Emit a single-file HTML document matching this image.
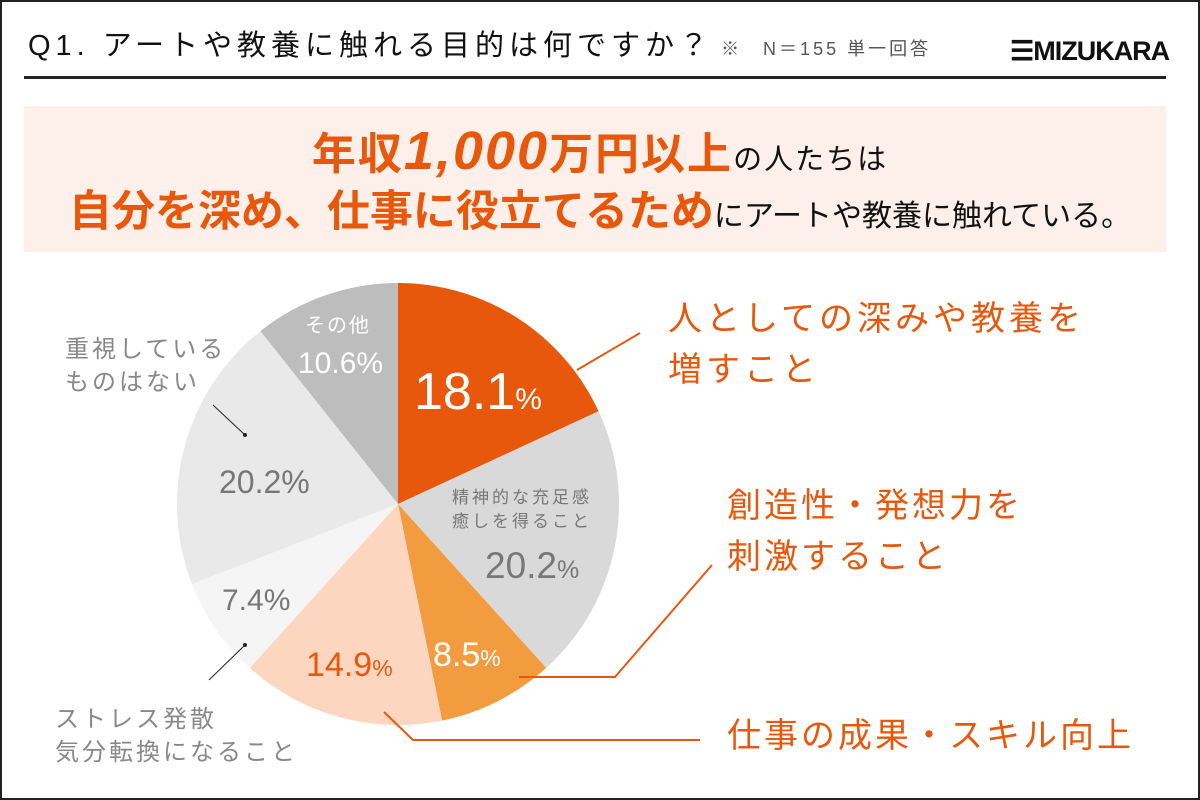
<!DOCTYPE html>
<html><head><meta charset="utf-8"><style>
body{margin:0;width:1200px;height:800px;overflow:hidden;background:#fff;font-family:"Liberation Sans","Noto Sans CJK JP",sans-serif;}
.f{position:absolute;box-sizing:border-box;}
.t{position:absolute;white-space:nowrap;line-height:1;}
</style></head><body>
<div class="f" style="left:0;top:0;width:1200px;height:800px;border:2px solid #222;"></div>
<div class="t" style="left:28px;top:32px;font-size:29px;color:#111;letter-spacing:5px;">Q1. アートや教養に触れる目的は何ですか？<span style="font-size:18px;color:#555;margin-left:8px;letter-spacing:3px">※　N＝155 単一回答</span></div>
<div class="t" style="left:1010px;top:38px;font-size:27px;font-weight:bold;color:#111;letter-spacing:-1px;">☰MIZUKARA</div>
<div class="f" style="left:24px;top:76px;width:1142px;height:3px;background:#222;"></div>
<div class="f" style="left:24px;top:106px;width:1142px;height:146px;background:#fdf0ea;"></div>
<div class="t" style="left:0;width:1200px;text-align:center;top:124px;font-size:44px;font-weight:bold;color:#e8580c;letter-spacing:2px;">年収<span style="font-size:54px;font-style:italic">1,000</span>万円以上<span style="font-size:29px;color:#111;font-weight:normal">の人たちは</span></div>
<div class="t" style="left:0;width:1200px;text-align:center;top:191px;font-size:43px;font-weight:bold;color:#e8580c;letter-spacing:0px;">自分を深め、仕事に役立てるため<span style="font-size:30px;color:#111;font-weight:normal">にアートや教養に触れている。</span></div>
<svg class="f" style="left:0;top:0" width="1200" height="800">
<path d="M398 504 L398 283 A221 221 0 0 1 598.6 411.2Z" fill="#e8580c"/>
<path d="M398 504 L598.6 411.2 A221 221 0 0 1 546.2 667.9Z" fill="#d9d9d9"/>
<path d="M398 504 L546.2 667.9 A221 221 0 0 1 442.1 720.6Z" fill="#f29b3f"/>
<path d="M398 504 L442.1 720.6 A221 221 0 0 1 249.8 667.9Z" fill="#fdd6c0"/>
<path d="M398 504 L249.8 667.9 A221 221 0 0 1 192 584.1Z" fill="#f5f5f5"/>
<path d="M398 504 L192 584.1 A221 221 0 0 1 260.4 331.1Z" fill="#e9e9e9"/>
<path d="M398 504 L260.4 331.1 A221 221 0 0 1 398 283Z" fill="#bdbdbd"/>
<g stroke="#e8580c" stroke-width="2" fill="none">
<polyline points="577,370 640,333"/>
<polyline points="519,677 615,677 712,565"/>
<polyline points="384,712 413,740 700,740"/>
</g>
<g stroke="#222" stroke-width="1"><line x1="213" y1="405" x2="245" y2="435"/><line x1="209" y1="680" x2="245" y2="645"/></g>
<circle cx="245" cy="435" r="2" fill="#222"/><circle cx="245" cy="645" r="2" fill="#222"/>
</svg>
<div class="t" style="left:305px;top:316px;font-size:20px;color:#fff;letter-spacing:2px;">その他</div>
<div class="t" style="left:298px;top:349px;font-size:30px;color:#fff;">10.6%</div>
<div class="t" style="left:414px;top:366px;font-size:52px;color:#fff;">18.1<span style="font-size:30px">%</span></div>
<div class="t" style="left:452px;top:486px;font-size:17px;color:#777;letter-spacing:3px;line-height:24px;">精神的な充足感<br>癒しを得ること</div>
<div class="t" style="left:485px;top:547px;font-size:37px;color:#777;">20.2<span style="font-size:25px">%</span></div>
<div class="t" style="left:433px;top:638px;font-size:34px;color:#fff;">8.5<span style="font-size:23px">%</span></div>
<div class="t" style="left:306px;top:648px;font-size:34px;color:#e8580c;">14.9<span style="font-size:23px">%</span></div>
<div class="t" style="left:222px;top:586px;font-size:30px;color:#777;">7.4%</div>
<div class="t" style="left:219px;top:466px;font-size:32px;color:#777;">20.2%</div>
<div class="t" style="left:65px;top:333px;font-size:24px;color:#888;letter-spacing:3px;line-height:33px;">重視している<br>ものはない</div>
<div class="t" style="left:55px;top:703px;font-size:24px;color:#888;letter-spacing:3px;line-height:33px;">ストレス発散<br>気分転換になること</div>
<div class="t" style="left:668px;top:294px;font-size:34px;color:#e8580c;letter-spacing:4px;line-height:51px;">人としての深みや教養を<br>増すこと</div>
<div class="t" style="left:727px;top:481px;font-size:34px;color:#e8580c;letter-spacing:3px;line-height:51px;">創造性・発想力を<br>刺激すること</div>
<div class="t" style="left:727px;top:719px;font-size:34px;color:#e8580c;letter-spacing:3px;">仕事の成果・スキル向上</div>
</body></html>
